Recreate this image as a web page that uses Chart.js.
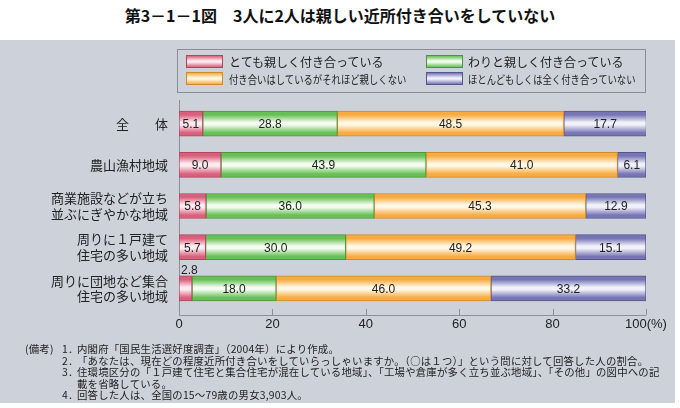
<!DOCTYPE html>
<html><head><meta charset="utf-8">
<script src="https://cdn.jsdelivr.net/npm/chart.js@4/dist/chart.umd.min.js"></script>
<style>
html,body{margin:0;padding:0;background:#fff;}
#wrap{position:relative;width:680px;height:408px;overflow:hidden;font-family:"Noto Sans CJK JP",sans-serif;color:#222;}
#panel{position:absolute;left:0;top:40px;width:675px;height:363px;background:#cdd1d9;}
#title{position:absolute;left:0;top:4px;width:680px;text-align:center;font-size:16px;font-weight:bold;line-height:22px;color:#111;}
#chart{position:absolute;left:0;top:0;}
#legend{position:absolute;left:177px;top:49px;width:469px;height:44px;border:1px solid #8a8d94;box-sizing:border-box;}
.sw{position:absolute;width:37px;height:13px;box-sizing:border-box;}
.lt{position:absolute;white-space:nowrap;color:#222;transform-origin:left center;}
.nl{position:absolute;white-space:nowrap;font-size:10.4px;line-height:12px;color:#222;letter-spacing:0.2px;}
</style>
</head><body>
<div id="wrap">
  <div id="panel"></div>
  <div id="title">第3－1－1図　3人に2人は親しい近所付き合いをしていない</div>
  <div id="legend"></div>
  <canvas id="chart" width="680" height="408"></canvas>
  <div id="notes"></div>
</div>
<script>
const categories = [["全　　体"], ["農山漁村地域"], ["商業施設などが立ち", "並ぶにぎやかな地域"], ["周りに１戸建て", "住宅の多い地域"], ["周りに団地など集合", "住宅の多い地域"]];
const seriesNames = ["とても親しく付き合っている", "わりと親しく付き合っている", "付き合いはしているがそれほど親しくない", "ほとんどもしくは全く付き合っていない"];
const verySeries = [5.1, 9.0, 5.8, 5.7, 2.8];
const fairlySeries = [28.8, 43.9, 36.0, 30.0, 18.0];
const notSoSeries = [48.5, 41.0, 45.3, 49.2, 46.0];
const hardlySeries = [17.7, 6.1, 12.9, 15.1, 33.2];
const xTicks = [0, 20, 40, 60, 80, 100];
const notes = [
  ["(備考)", "1．", "内閣府「国民生活選好度調査」（2004年）により作成。"],
  ["", "2．", "「あなたは、現在どの程度近所付き合いをしていらっしゃいますか。（○は１つ）」という問に対して回答した人の割合。"],
  ["", "3．", "住環境区分の「１戸建て住宅と集合住宅が混在している地域」、「工場や倉庫が多く立ち並ぶ地域」、「その他」の図中への記"],
  ["", "", "載を省略している。"],
  ["", "4．", "回答した人は、全国の15～79歳の男女3,903人。"]
];

const palette = [
  {edge:"#d9607c", mid:"#fdebef", border:"#b0455d"},
  {edge:"#68bf55", mid:"#f3fcf0", border:"#4b963c"},
  {edge:"#f7ab42", mid:"#fff8e6", border:"#cf8a2b"},
  {edge:"#7676b4", mid:"#f1f1fa", border:"#55558e"}
];
const BAR_H = 25;

function barFill(i){
  return function(ctx){
    const chart = ctx.chart;
    const ys = chart.scales && chart.scales.y;
    if (!chart.chartArea || !ys || ctx.dataIndex === undefined) return palette[i].edge;
    const c = ys.getPixelForValue(ctx.dataIndex);
    const g = chart.ctx.createLinearGradient(0, c - BAR_H/2, 0, c + BAR_H/2);
    g.addColorStop(0, palette[i].edge);
    g.addColorStop(0.15, palette[i].edge);
    g.addColorStop(0.45, palette[i].mid);
    g.addColorStop(0.55, palette[i].mid);
    g.addColorStop(0.87, palette[i].edge);
    g.addColorStop(1, palette[i].edge);
    return g;
  };
}

// Legend (HTML)
const legendPos = [[186,55,229,61.5],[426,55,468,61.5],[186,72,229,79],[426,72,468,79]];
const wrap = document.getElementById('wrap');
seriesNames.forEach((name, i) => {
  const p = legendPos[i];
  const sw = document.createElement('div');
  sw.className = 'sw';
  sw.style.left = p[0] + 'px'; sw.style.top = p[1] + 'px';
  sw.style.background = `linear-gradient(to bottom, ${palette[i].edge} 0%, ${palette[i].mid} 45%, ${palette[i].mid} 55%, ${palette[i].edge} 100%)`;
  sw.style.border = '1px solid ' + palette[i].border;
  wrap.appendChild(sw);
  const t = document.createElement('div');
  t.className = 'lt';
  t.textContent = name;
  const row2 = i >= 2;
  t.style.fontSize = row2 ? '11px' : '12px';
  t.style.lineHeight = '14px';
  t.style.left = p[2] + 'px';
  t.style.top = (p[3] - 7) + 'px';
  if (row2) t.style.transform = 'scaleX(0.85)';
  wrap.appendChild(t);
});

// Notes
const noteY = [343, 354.5, 366, 377.5, 389];
notes.forEach((n, i) => {
  [[25, n[0]], [62, n[1]], [77, n[2]]].forEach(([x, s]) => {
    if (!s) return;
    const d = document.createElement('div');
    d.className = 'nl';
    d.style.left = x + 'px';
    d.style.top = noteY[i] + 'px';
    d.textContent = s;
    wrap.appendChild(d);
  });
});

const axisPlugin = {
  id: 'axisPlugin',
  beforeDatasetsDraw(chart){
    const {ctx, chartArea} = chart;
    const xs = chart.scales.x;
    const axisY = chartArea.bottom + 6;
    ctx.save();
    ctx.strokeStyle = '#8e9096';
    ctx.lineWidth = 1;
    ctx.beginPath();
    ctx.moveTo(chartArea.left + 0.5, chartArea.top - 3);
    ctx.lineTo(chartArea.left + 0.5, axisY + 0.5);
    ctx.lineTo(xs.getPixelForValue(100), axisY + 0.5);
    xTicks.forEach(v => {
      const px = Math.round(xs.getPixelForValue(v)) + 0.5;
      ctx.moveTo(px, axisY - 6);
      ctx.lineTo(px, axisY);
    });
    ctx.stroke();
    ctx.restore();
  }
};

const valuePlugin = {
  id: 'valuePlugin',
  afterDatasetsDraw(chart){
    const ctx = chart.ctx;
    ctx.save();
    ctx.font = '12px "Liberation Sans", Arial, sans-serif';
    ctx.fillStyle = '#222';
    chart.data.datasets.forEach((ds, di) => {
      const meta = chart.getDatasetMeta(di);
      meta.data.forEach((el, j) => {
        const v = ds.data[j];
        const txt = v.toFixed(1);
        const left = Math.min(el.x, el.base), right = Math.max(el.x, el.base);
        const w = right - left;
        if (w < 18) {
          ctx.textAlign = 'left';
          ctx.textBaseline = 'bottom';
          ctx.fillText(txt, left + 2, el.y - el.height/2 + 1);
        } else {
          ctx.textAlign = 'center';
          ctx.textBaseline = 'middle';
          ctx.fillText(txt, (left + right)/2, el.y + 1);
        }
      });
    });
    ctx.restore();
  }
};

const seriesData = [verySeries, fairlySeries, notSoSeries, hardlySeries];
new Chart(document.getElementById('chart'), {
  type: 'bar',
  data: {
    labels: categories,
    datasets: seriesData.map((d, i) => ({
      label: seriesNames[i],
      data: d,
      backgroundColor: barFill(i),
      borderColor: palette[i].border,
      borderWidth: 1,
      borderSkipped: false,
      barThickness: BAR_H
    }))
  },
  options: {
    indexAxis: 'y',
    responsive: false,
    animation: false,
    devicePixelRatio: 1,
    layout: {padding: {top: 103, right: 34, bottom: 69, left: 0}},
    plugins: {legend: {display: false}, tooltip: {enabled: false}},
    scales: {
      x: {
        stacked: true, min: 0, max: 100,
        grid: {display: false, drawTicks: false},
        border: {display: false},
        afterFit(s){ s.height = 30; },
        afterBuildTicks(s){ s.ticks = xTicks.map(v => ({value: v})); },
        ticks: {
          padding: 8,
          color: '#222',
          font: {family: '"Liberation Sans", Arial, sans-serif', size: 13},
          callback: v => v === 100 ? '100(%)' : String(v),
          maxRotation: 0, autoSkip: false
        }
      },
      y: {
        stacked: true,
        grid: {display: false, drawTicks: false},
        border: {display: false},
        afterFit(s){ s.width = 179; },
        ticks: {
          padding: 11,
          color: '#222',
          font: {family: '"Noto Sans CJK JP", sans-serif', size: 13, lineHeight: 1.2}
        }
      }
    }
  },
  plugins: [axisPlugin, valuePlugin]
});
</script>
</body></html>
